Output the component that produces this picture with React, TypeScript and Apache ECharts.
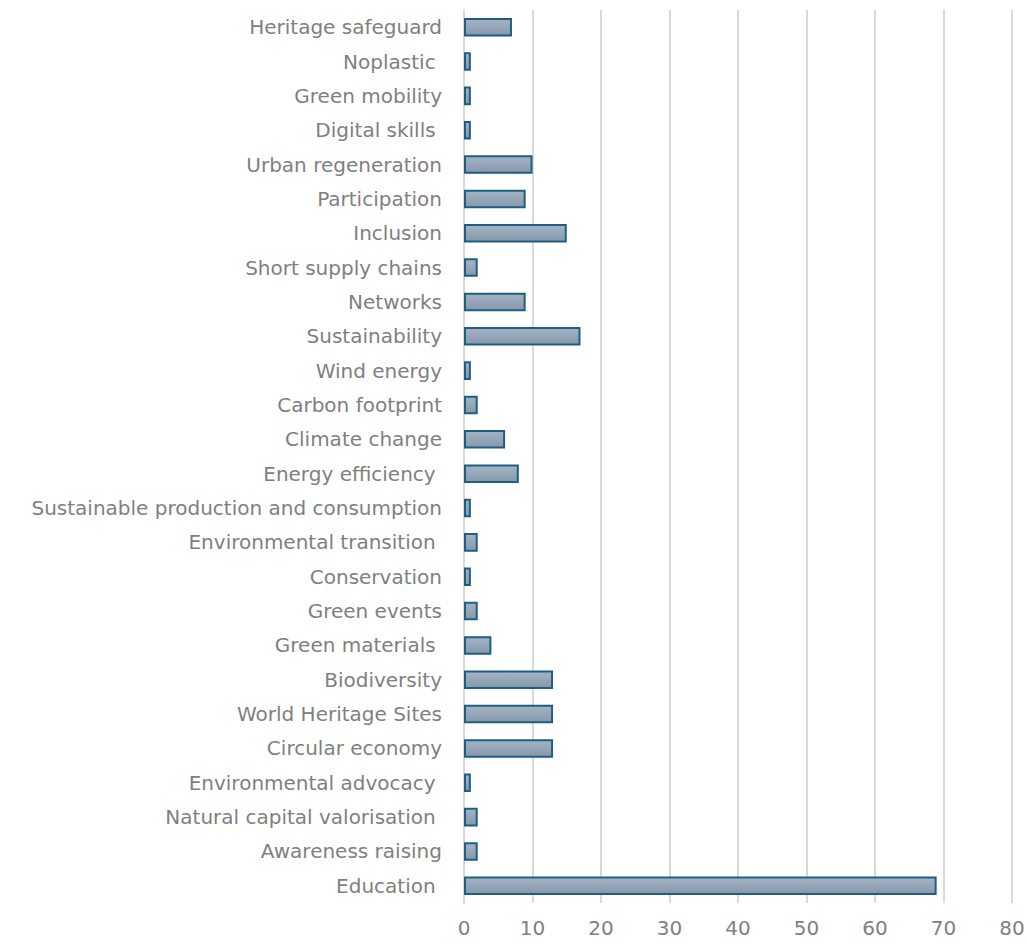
import React, { useEffect, useRef } from "react";
import * as echarts from "echarts";

const categories = [
  "Heritage safeguard",
  "Noplastic ",
  "Green mobility",
  "Digital skills ",
  "Urban regeneration",
  "Participation",
  "Inclusion",
  "Short supply chains",
  "Networks",
  "Sustainability",
  "Wind energy",
  "Carbon footprint",
  "Climate change",
  "Energy efficiency ",
  "Sustainable production and consumption",
  "Environmental transition ",
  "Conservation",
  "Green events",
  "Green materials ",
  "Biodiversity",
  "World Heritage Sites",
  "Circular economy",
  "Environmental advocacy ",
  "Natural capital valorisation ",
  "Awareness raising",
  "Education ",
];

const values = [7, 1, 1, 1, 10, 9, 15, 2, 9, 17, 1, 2, 6, 8, 1, 2, 1, 2, 4, 13, 13, 13, 1, 2, 2, 69];

const xTicks = { min: 0, max: 80, interval: 10 };

export default function App() {
  const ref = useRef<HTMLDivElement>(null);
  useEffect(() => {
    if (!ref.current) return;
    const chart = echarts.init(ref.current, undefined, { renderer: "svg" });
    chart.setOption({
      animation: false,
      backgroundColor: "#ffffff",
      grid: {
        left: 464,
        right: 15,
        top: 10,
        bottom: 41,
        containLabel: false,
        outerBoundsMode: "none",
      },
      xAxis: {
        type: "value",
        min: xTicks.min,
        max: xTicks.max,
        interval: xTicks.interval,
        axisLine: { show: false },
        axisTick: { show: false },
        axisLabel: {
          color: "#808080",
          fontSize: 20,
          fontFamily: "DejaVu Sans",
          margin: 15,
        },
        splitLine: { show: true, lineStyle: { color: "#d9d9d9", width: 2 } },
      },
      yAxis: {
        type: "category",
        inverse: true,
        data: categories,
        axisLine: { show: true, lineStyle: { color: "#d9d9d9", width: 2 } },
        axisTick: { show: false },
        axisLabel: {
          color: "#7f7f7f",
          fontSize: 20,
          fontFamily: "DejaVu Sans",
          margin: 22,
        },
      },
      series: [
        {
          type: "bar",
          data: values,
          barCategoryGap: "46%",
          itemStyle: {
            color: new echarts.graphic.LinearGradient(0, 0, 0, 1, [
              { offset: 0, color: "#a5b4c4" },
              { offset: 1, color: "#8798ac" },
            ]),
            borderColor: "#1d5f82",
            borderWidth: 2,
          },
        },
      ],
    });
    return () => chart.dispose();
  }, []);
  return (
    <div
      ref={ref}
      style={{ position: "absolute", left: 0, top: 0, width: 1027, height: 944 }}
    />
  );
}
